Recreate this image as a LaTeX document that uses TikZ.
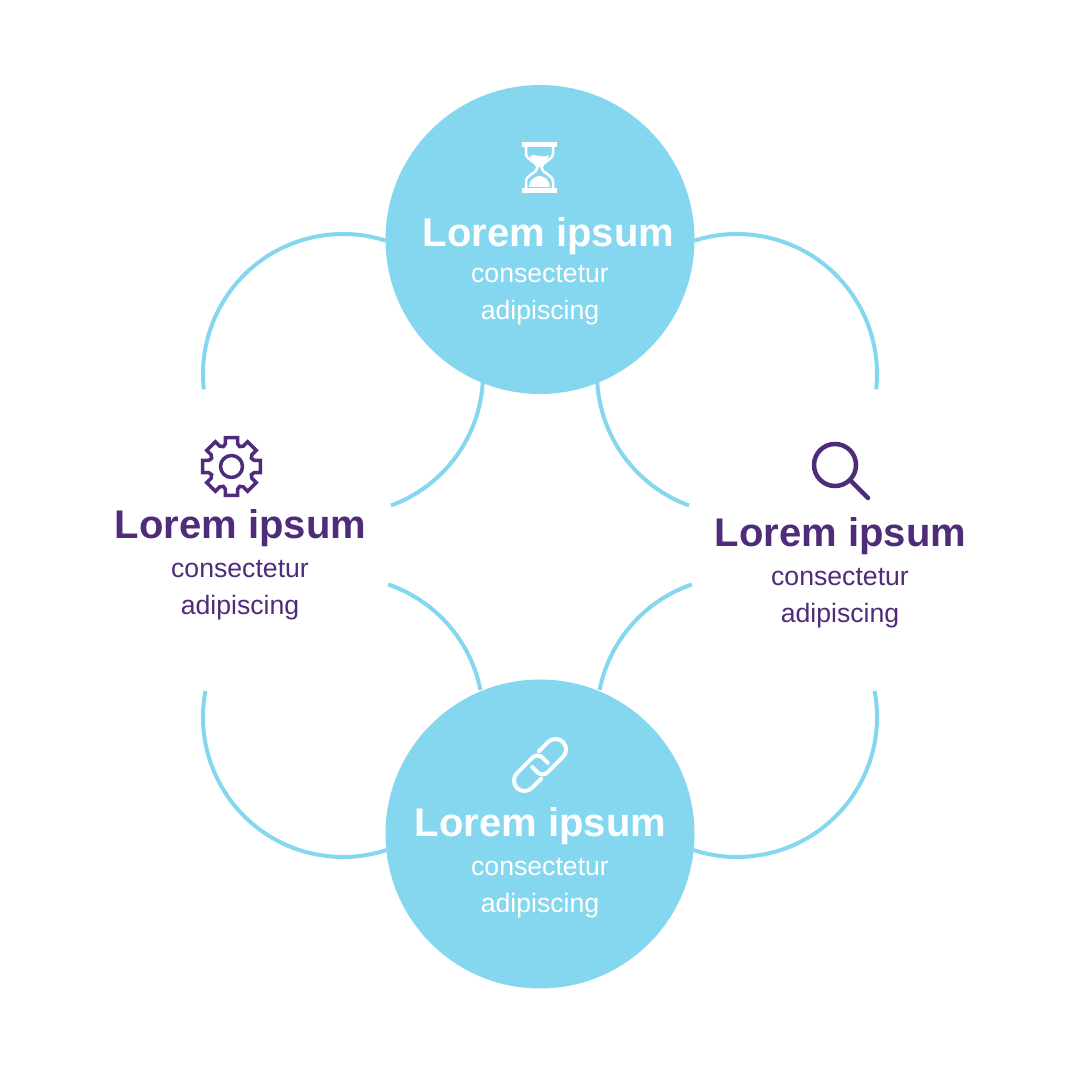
\documentclass[tikz,border=0pt]{standalone}
\usepackage{fontspec}
\setmainfont{Liberation Sans}
\usepackage{xcolor}
\usetikzlibrary{positioning}
\definecolor{skyfill}{HTML}{84D7EF}
\definecolor{plum}{HTML}{4F2C7A}

\begin{document}
\begin{tikzpicture}[
    hub/.style={circle, fill=skyfill, minimum size=3.09cm, inner sep=0pt},
    ring/.style={draw=skyfill, line width=0.04cm},
    title/.style={font=\fontsize{11.38}{13}\selectfont\bfseries, inner sep=0pt},
    sub/.style={font=\fontsize{7.58}{10.53}\selectfont, align=center, inner sep=0pt},
    icon/.style={line width=0.035cm, line join=round}
    ]
    \useasboundingbox (0,0) rectangle (10.8,10.8);

    % four big circles, each one broken where the text sits
    \coordinate (tl) at (3.43,7.06);
    \coordinate (tr) at (7.37,7.06);
    \coordinate (bl) at (3.43,3.63);
    \coordinate (br) at (7.37,3.63);
    \draw[ring] (tl) ++(186.3:1.40) arc[start angle=186.3, end angle=72.2, radius=1.40];
    \draw[ring] (tr) ++(-6.3:1.40) arc[start angle=-6.3, end angle=107.8, radius=1.40];
    \draw[ring] (bl) ++(169.3:1.40) arc[start angle=169.3, end angle=288, radius=1.40];
    \draw[ring] (br) ++(10.7:1.40) arc[start angle=10.7, end angle=-108, radius=1.40];

    \draw[ring] (tl) ++(-3.4:1.40) arc[start angle=-3.4, end angle=-70, radius=1.40];
    \draw[ring] (tr) ++(183.4:1.40) arc[start angle=183.4, end angle=250, radius=1.40];
    \draw[ring] (bl) ++(11.1:1.40) arc[start angle=11.1, end angle=71.2, radius=1.40];
    \draw[ring] (br) ++(168.9:1.40) arc[start angle=168.9, end angle=108.8, radius=1.40];

    \node[hub] (top) at (5.4,8.405) {};
    \node[hub] (bottom) at (5.4,2.46) {};

    % hourglass
    \fill[white] (5.22,9.33) rectangle (5.57,9.38);
    \fill[white] (5.22,8.87) rectangle (5.57,8.92);
    \draw[white, icon, line width=0.025cm] (5.26,9.33) -- (5.26,9.27)
        .. controls (5.26,9.19) and (5.37,9.19) .. (5.375,9.125)
        .. controls (5.37,9.06) and (5.26,9.06) .. (5.26,8.98) -- (5.26,8.92);
    \draw[white, icon, line width=0.025cm] (5.53,9.33) -- (5.53,9.27)
        .. controls (5.53,9.19) and (5.42,9.19) .. (5.415,9.125)
        .. controls (5.42,9.06) and (5.53,9.06) .. (5.53,8.98) -- (5.53,8.92);
    \fill[white] (5.30,9.24) .. controls (5.34,9.27) and (5.42,9.21) .. (5.49,9.25)
        .. controls (5.47,9.18) and (5.42,9.17) .. (5.405,9.13) -- (5.385,9.13)
        .. controls (5.37,9.17) and (5.32,9.18) .. (5.30,9.24) -- cycle;
    \fill[white] (5.29,8.93) .. controls (5.29,9.0) and (5.35,9.04) .. (5.395,9.04)
        .. controls (5.44,9.04) and (5.5,9.0) .. (5.5,8.93) -- cycle;

    % chain link
    \foreach \turn in {45,225}
        \draw[white, icon, line width=0.04cm, line cap=round, shift={(5.4,3.15)}, rotate=\turn, x=0.01cm, y=0.01cm]
            (9,10.5) -- (22,10.5) arc[start angle=90, end angle=-90, radius=10.5]
            -- (0,-10.5) arc[start angle=-90, end angle=-180, radius=7] -- (-7,4);

    % gear
    \draw[plum, icon] (2.315,6.135) circle (0.11);
    \draw[plum, icon, line join=miter] (2.315,6.135) ++(-22.5:0.215)
        foreach \a in {0,45,...,315} {
            -- ([shift={(2.315,6.135)}]\a-22.5:0.215) -- ([shift={(2.315,6.135)}]\a-15:0.235)
            -- ([shift={(2.315,6.135)}]\a-12:0.295) -- ([shift={(2.315,6.135)}]\a+12:0.295)
            -- ([shift={(2.315,6.135)}]\a+15:0.235)
        } -- cycle;

    % magnifier
    \coordinate (lens) at (8.35,6.15);
    \draw[plum, line width=0.045cm] (lens) circle (0.21);
    \draw[plum, line width=0.045cm, line cap=round] (8.51,5.99) -- (8.68,5.82);

    % texts
    \node[title, white] (ttitle) at (5.485,8.44) {Lorem ipsum};
    \node[sub, white] (tsub) at (5.4,7.85) {consectetur\\adipiscing};
    \node[title, white] (btitle) at (5.405,2.54) {Lorem ipsum};
    \node[sub, white] (bsub) at (5.4,1.92) {consectetur\\adipiscing};
    \node[title, plum] (ltitle) at (2.405,5.52) {Lorem ipsum};
    \node[sub, plum] (lsub) at (2.4,4.90) {consectetur\\adipiscing};
    \node[title, plum] (rtitle) at (8.405,5.44) {Lorem ipsum};
    \node[sub, plum] (rsub) at (8.4,4.82) {consectetur\\adipiscing};
\end{tikzpicture}
\end{document}
